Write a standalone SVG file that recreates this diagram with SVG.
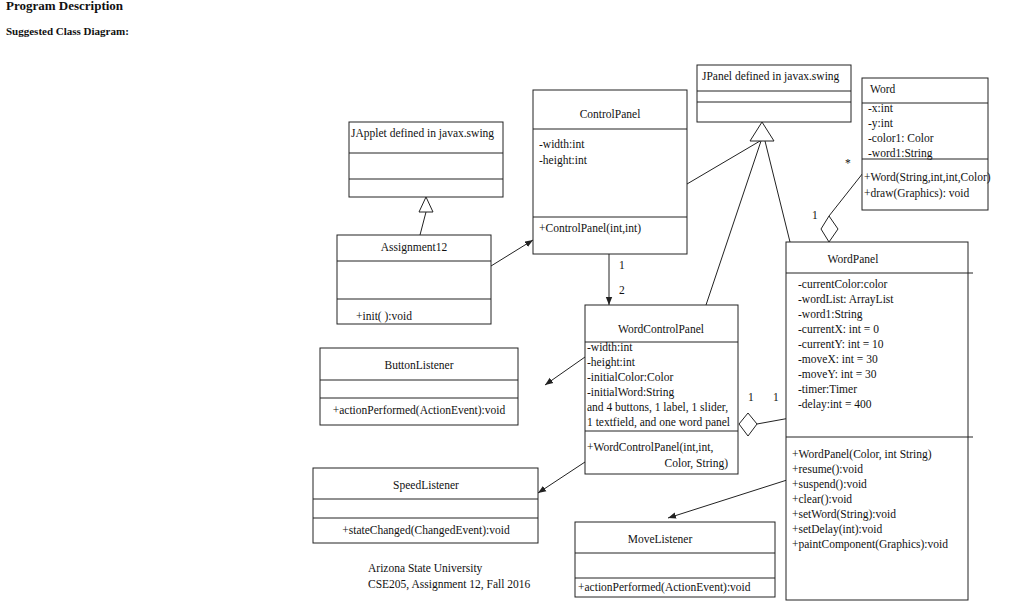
<svg xmlns="http://www.w3.org/2000/svg" width="1024" height="612" viewBox="0 0 1024 612">
<style>
text{font-family:"Liberation Serif","Times New Roman",serif;font-size:11.5px;fill:#111}
.h{font-weight:bold}
.c{text-anchor:middle}
.box{fill:#fff;stroke:#222;stroke-width:1}
.ln{stroke:#222;stroke-width:1;fill:none}
.open{fill:#fff;stroke:#222;stroke-width:1}
</style>
<defs>
<marker id="arr" viewBox="0 0 10 10" refX="10" refY="5" markerWidth="8" markerHeight="8" markerUnits="userSpaceOnUse" orient="auto">
<path d="M0,1 L10,5 L0,9 z" fill="#222"/>
</marker>
</defs>
<rect width="1024" height="612" fill="#fff"/>
<text class="h" x="6" y="10" style="font-size:13px">Program Description</text>
<text class="h" x="6" y="35" style="font-size:11px">Suggested Class Diagram:</text>

<g id="connectors">
<line class="ln" x1="420" y1="235" x2="426" y2="212"/>
<polygon class="open" points="426,197 419,212 433,212"/>
<line class="ln" x1="491" y1="266" x2="533" y2="240" marker-end="url(#arr)"/>
<line class="ln" x1="609" y1="254" x2="609" y2="305" marker-end="url(#arr)"/>
<line class="ln" x1="687" y1="184" x2="760" y2="141"/>
<line class="ln" x1="706" y1="305" x2="761" y2="141"/>
<line class="ln" x1="790" y1="242" x2="765" y2="141"/>
<polygon class="open" points="762,122 750,141 774,141"/>
<line class="ln" x1="863" y1="173" x2="829" y2="216"/>
<polygon class="open" points="829,216 838,229 829,242 821,229"/>
<line class="ln" x1="757" y1="424" x2="790" y2="418"/>
<polygon class="open" points="739,424 748,413 757,424 748,436"/>
<line class="ln" x1="585" y1="357" x2="545" y2="385" marker-end="url(#arr)"/>
<line class="ln" x1="585" y1="462" x2="538" y2="493" marker-end="url(#arr)"/>
<line class="ln" x1="787" y1="480" x2="668" y2="518" marker-end="url(#arr)"/>
<text x="619" y="269">1</text>
<text x="619" y="294">2</text>
<text x="812" y="219">1</text>
<text x="845" y="167">*</text>
<text x="748" y="401">1</text>
<text x="773" y="401">1</text>
</g>

<g id="JApplet">
<rect class="box" x="349" y="122" width="154" height="75"/>
<line class="ln" x1="349" y1="153" x2="503" y2="153"/>
<line class="ln" x1="349" y1="179" x2="503" y2="179"/>
<text x="351" y="137">JApplet  defined  in  javax.swing</text>
</g>

<g id="Assignment12">
<rect class="box" x="337" y="235" width="154" height="89"/>
<line class="ln" x1="337" y1="261" x2="491" y2="261"/>
<line class="ln" x1="337" y1="299" x2="491" y2="299"/>
<text class="c" x="414" y="251">Assignment12</text>
<text x="356" y="320">+init(  ):void</text>
</g>

<g id="ControlPanel">
<rect class="box" x="533" y="90" width="154" height="164"/>
<line class="ln" x1="533" y1="129" x2="687" y2="129"/>
<line class="ln" x1="533" y1="217" x2="687" y2="217"/>
<text class="c" x="610" y="118">ControlPanel</text>
<text x="539" y="148">-width:int</text>
<text x="539" y="164">-height:int</text>
<text x="539" y="232">+ControlPanel(int,int)</text>
</g>

<g id="JPanel">
<rect class="box" x="697" y="65" width="154" height="57"/>
<line class="ln" x1="697" y1="91" x2="851" y2="91"/>
<line class="ln" x1="697" y1="102" x2="851" y2="102"/>
<text x="702" y="80">JPanel  defined  in  javax.swing</text>
</g>

<g id="Word">
<rect class="box" x="862" y="78" width="126" height="132"/>
<line class="ln" x1="862" y1="103" x2="988" y2="103"/>
<line class="ln" x1="862" y1="159" x2="988" y2="159"/>
<text x="870" y="93">Word</text>
<text x="868" y="112">-x:int</text>
<text x="868" y="127">-y:int</text>
<text x="868" y="142">-color1:  Color</text>
<text x="868" y="157">-word1:String</text>
<text x="864" y="181">+Word(String,int,int,Color)</text>
<text x="864" y="197">+draw(Graphics):  void</text>
</g>

<g id="WordPanel">
<rect class="box" x="786" y="242" width="182" height="358"/>
<line class="ln" x1="786" y1="273" x2="973" y2="273"/>
<line class="ln" x1="786" y1="437" x2="973" y2="437"/>
<text class="c" x="853" y="263">WordPanel</text>
<text x="798" y="288">-currentColor:color</text>
<text x="798" y="303">-wordList:  ArrayList</text>
<text x="798" y="318">-word1:String</text>
<text x="798" y="333">-currentX:  int  = 0</text>
<text x="798" y="348">-currentY:  int  = 10</text>
<text x="798" y="363">-moveX:  int  = 30</text>
<text x="798" y="378">-moveY:  int  = 30</text>
<text x="798" y="393">-timer:Timer</text>
<text x="798" y="408">-delay:int  = 400</text>
<text x="792" y="458">+WordPanel(Color,  int  String)</text>
<text x="792" y="473">+resume():void</text>
<text x="792" y="488">+suspend():void</text>
<text x="792" y="503">+clear():void</text>
<text x="792" y="518">+setWord(String):void</text>
<text x="792" y="533">+setDelay(int):void</text>
<text x="792" y="548">+paintComponent(Graphics):void</text>
</g>

<g id="WordControlPanel">
<rect class="box" x="585" y="305" width="153" height="169"/>
<line class="ln" x1="585" y1="342" x2="738" y2="342"/>
<line class="ln" x1="585" y1="431" x2="738" y2="431"/>
<text class="c" x="661" y="333">WordControlPanel</text>
<text x="587" y="351">-width:int</text>
<text x="587" y="366">-height:int</text>
<text x="587" y="381">-initialColor:Color</text>
<text x="587" y="396">-initialWord:String</text>
<text x="587" y="411">and 4 buttons,  1 label,  1 slider,</text>
<text x="587" y="426">1 textfield,  and one word panel</text>
<text x="587" y="451">+WordControlPanel(int,int,</text>
<text x="728" y="467" text-anchor="end">Color,  String)</text>
</g>

<g id="ButtonListener">
<rect class="box" x="320" y="348" width="198" height="77"/>
<line class="ln" x1="320" y1="380" x2="518" y2="380"/>
<line class="ln" x1="320" y1="398" x2="518" y2="398"/>
<text class="c" x="419" y="369">ButtonListener</text>
<text class="c" x="419" y="414">+actionPerformed(ActionEvent):void</text>
</g>

<g id="SpeedListener">
<rect class="box" x="313" y="468" width="225" height="75"/>
<line class="ln" x1="313" y1="499" x2="538" y2="499"/>
<line class="ln" x1="313" y1="518" x2="538" y2="518"/>
<text class="c" x="426" y="489">SpeedListener</text>
<text class="c" x="426" y="534">+stateChanged(ChangedEvent):void</text>
</g>

<g id="MoveListener">
<rect class="box" x="575" y="522" width="200" height="75"/>
<line class="ln" x1="575" y1="553" x2="775" y2="553"/>
<line class="ln" x1="575" y1="578" x2="775" y2="578"/>
<text class="c" x="660" y="543">MoveListener</text>
<text x="578" y="591">+actionPerformed(ActionEvent):void</text>
</g>

<g id="footer">
<text x="368" y="572">Arizona  State University</text>
<text x="368" y="588">CSE205, Assignment  12, Fall  2016</text>
</g>
</svg>
